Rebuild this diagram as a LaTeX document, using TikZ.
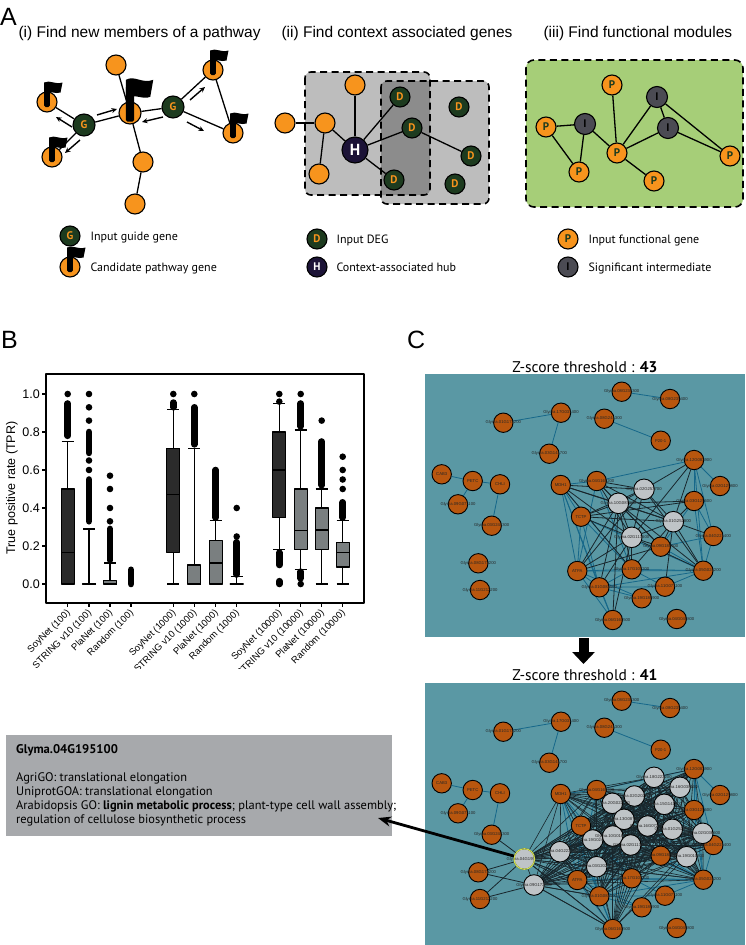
\documentclass[tikz,border=0pt]{standalone}
\usepackage{fontspec}
\setmainfont{Liberation Sans}
\newfontfamily\myr{PT Sans}
\usetikzlibrary{arrows.meta}
\definecolor{aorange}{HTML}{F7941D}
\definecolor{dgreen}{HTML}{1D3B1F}
\definecolor{hnavy}{HTML}{1C1337}
\definecolor{igray}{HTML}{4B4B53}
\definecolor{boxgray}{HTML}{BDBDBD}
\definecolor{ovgray}{HTML}{8C8C8C}
\definecolor{modgreen}{HTML}{A6CE78}
\definecolor{bdark}{HTML}{2B2B2B}
\definecolor{bgray}{HTML}{7A7F80}
\definecolor{netbg}{HTML}{5A98A4}
\definecolor{corange}{HTML}{B8560E}
\definecolor{cgray}{HTML}{BFC4C7}
\definecolor{tedgec}{HTML}{16688A}
\definecolor{dedgec}{HTML}{18262C}
\definecolor{infogray}{HTML}{A7A9AC}
\definecolor{hilite}{HTML}{D2E04E}
\pgfdeclarelayer{back}\pgfdeclarelayer{edges}\pgfsetlayers{back,edges,main}
\tikzset{candflag/.pic={
 \fill[rounded corners=1.5pt] (-2.8,5) rectangle (2.8,-16);
 \fill (-2.8,-19.5) .. controls (3,-22.5) and (8,-17) .. (15.5,-19.5) -- (13.5,-9.5) .. controls (8,-7.5) and (3,-12) .. (-2.8,-8.5) -- cycle;
}}
\newcommand\bxp[7]{%
 \draw[bline] (#1,{584-190*#2}) -- (#1,{584-190*#6});
 \draw[bline] ({#1-6},{584-190*#2}) -- ({#1+6},{584-190*#2});
 \draw[bline] ({#1-6},{584-190*#6}) -- ({#1+6},{584-190*#6});
 \filldraw[bline,fill=#7] ({#1-6.5},{584-190*#3}) rectangle ({#1+6.5},{584-190*#5});
 \draw[bline] ({#1-6.5},{584-190*#4}) -- ({#1+6.5},{584-190*#4});}
\newcommand\ocol[3]{\draw[line width=6.6pt,line cap=round] (#1,{584-190*#2}) -- (#1,{584-190*#3});}
\newcommand\odt[2]{\fill (#1,{584-190*#2}) circle (3.3pt);}
\newcommand\toplist{1/621.7/391.7/Glyma.08G235300,2/670/399/Glyma.08G235400,3/561/412.7/Glyma.17G031400,4/503.3/422.7/Glyma.01G172200,5/604.3/418.7/Glyma.08G241300,6/660.7/440.7/P20-1,7/549.3/453.7/Glyma.03G141700,8/441.7/474.3/CAB3,9/472.7/481/PETC,10/500/484.3/CHLI,11/458/504.3/Glyma.09G071100,12/491.7/525.7/Glyma.03G244300,13/478.3/563.3/Glyma.08G173200,14/480/590/Glyma.11G212200,15/560.7/485/MDH1,16/596.7/481/Glyma.04G165200,17/694/460/Glyma.12G083900,18/720/486/Glyma.02G129800,19/694/501/Glyma.03G125600,20/581/516.7/TCTP,21/713.3/536/Glyma.04G221400,22/660.7/546.7/Glyma.09G181500,23/577.3/571/ATPA,24/631.7/569.3/Glyma.17G103200,25/703.3/570.7/Glyma.05G024200,26/665/586.7/Glyma.11G071100,27/599.3/587.3/Glyma.01G083500,28/641.7/598.3/Glyma.19G189900,29/612.7/620/Glyma.06G161500,30/676.7/619/Glyma.04G049800}
\newcommand\tgraylist{1/644/489.3/Glyma.02G253700,2/618.3/503.3/Glyma.10G087300,3/673.3/521.7/Glyma.01G252800,4/631.7/537.3/Glyma.02G113500}
\newcommand\bgraylist{1/654/777.3/Glyma.18G222200,2/680/787.3/Glyma.16G038100,3/634.3/796/Glyma.02G202600,4/612.3/803.3/Glyma.20G022100,5/664.3/804.3/Glyma.15G141300,6/624/819.3/Glyma.13G087300,7/647.7/826/Glyma.16G072400,8/672.3/829.3/Glyma.01G252800,9/702.7/833.3/Glyma.02G036600,10/592.7/840/Glyma.19G024700,11/612.7/836/Glyma.10G016300,12/630.7/845/Glyma.02G113500,13/560/851.7/Glyma.04G222200,14/686.7/856.7/Glyma.19G010300,15/524.3/859/Glyma.04G195100,16/596.7/866.7/Glyma.03G202700,17/534/885/Glyma.09G172800}
\newcommand\tealpairs{1/2,3/4,3/7,5/6,8/9,9/10,9/11,10/12,16/17,15/16,15/20,15/23,15/27,15/24,15/29,20/23,20/27,20/24,20/25,23/27,23/24,23/25,24/25,27/25,27/26,27/29,17/18,17/19,17/21,17/25,19/21,19/25,21/25,22/25,22/21,16/24,24/27,23/28,27/28,26/25,19/22,23/29,16/23,24/26}
\newcommand\tdarkpairs{tg1/tg2,tg1/tg3,tg1/tg4,tg2/tg3,tg2/tg4,tg3/tg4,to15/tg1,to15/tg2,to15/tg3,to15/tg4,to16/tg1,to16/tg2,to16/tg3,to16/tg4,to20/tg1,to20/tg2,to20/tg3,to20/tg4,to17/tg1,to17/tg3,to17/tg4,to19/tg2,to19/tg3,to21/tg3,to22/tg2,to22/tg3,to22/tg4,to23/tg1,to23/tg2,to23/tg4,to24/tg2,to24/tg3,to24/tg4,to25/tg1,to25/tg2,to25/tg3,to25/tg4,to27/tg2,to27/tg4,to29/tg4,to29/tg2,to26/tg3,to15/to24,to16/to22,to20/to19,to23/to22}
\begin{document}
\begin{tikzpicture}[x=1pt,y=-1pt,line join=round,
 onode/.style={circle,draw=black,line width=1.1pt,fill=aorange,minimum size=20pt,inner sep=0pt},
 letnode/.style={circle,draw=black,line width=1.1pt,inner sep=0pt,font=\myr\bfseries\fontsize{11}{11}\selectfont},
 gnode/.style={letnode,fill=dgreen,text=aorange,minimum size=22pt},
 dnode/.style={letnode,fill=dgreen,text=aorange,minimum size=20pt},
 hnode/.style={letnode,fill=hnavy,text=white,minimum size=26pt,font=\myr\bfseries\fontsize{16}{16}\selectfont},
 pnode/.style={letnode,fill=aorange,text=dgreen,minimum size=20pt},
 inode/.style={letnode,fill=igray,text=black,minimum size=21pt},
 aedge/.style={line width=1.3pt},
 smarr/.style={line width=1.4pt,-{Stealth[length=5.5pt,width=5pt]}},
 dbox/.style={draw=black,line width=1.6pt,dash pattern=on 7pt off 4.5pt,rounded corners=6pt},
 legtxt/.style={anchor=base west,font=\myr\fontsize{12}{12}\selectfont},
 ttl/.style={anchor=base west,font=\fontsize{15.5}{16}\selectfont},
 panel/.style={anchor=base west,font=\fontsize{25}{25}\selectfont,inner sep=0pt},
 bline/.style={line width=1.3pt},
 xlab/.style={anchor=east,rotate=45,font=\fontsize{9.5}{9.5}\selectfont,inner sep=1pt},
 ylabs/.style={anchor=east,font=\fontsize{12.5}{13}\selectfont,inner sep=1pt},
 conode/.style={circle,draw=black,line width=0.9pt,fill=corange,minimum size=19.4pt,inner sep=0pt},
 cgnode/.style={circle,draw=black,line width=0.9pt,fill=cgray,minimum size=20.6pt,inner sep=0pt},
 clab/.style={inner sep=0pt,font=\fontsize{4.2}{4.2}\selectfont,text=black!85},
 tedge/.style={draw=tedgec,line width=0.8pt},
 dedge/.style={draw=dedgec,line width=0.8pt},
 bdedge/.style={draw=dedgec,line width=0.6pt},
 ztitle/.style={anchor=base,font=\myr\fontsize{15.5}{15.5}\selectfont},
 infotxt/.style={anchor=base west,inner sep=0pt,font=\myr\fontsize{12.4}{13}\selectfont}]
\useasboundingbox (0,0) rectangle (745,945);
\begin{pgfonlayer}{back}
\fill[white] (0,0) rectangle (745,945);
\end{pgfonlayer}
% ================= Panel A =================
\node[panel] (labA) at (0,25) {A};
\node[ttl] (t1) at (15,37) {(i) Find new members of a pathway};
\node[ttl] (t2) at (278,37) {(ii) Find context associated genes};
\node[ttl] (t3) at (540,37) {(iii) Find functional modules};
% (i)
\node[onode] (i1) at (116,65) {};
\node[onode,minimum size=22pt] (i2) at (130,113) {};
\node[gnode] (iG1) at (84,125) {G};
\node[gnode] (iG2) at (173,107) {G};
\node[onode] (i3) at (47,102) {};
\node[onode] (i4) at (52,157) {};
\node[onode] (i5) at (143,162) {};
\node[onode] (i6) at (135,204) {};
\node[onode] (i7) at (213,70) {};
\node[onode] (i8) at (233,133) {};
\begin{pgfonlayer}{edges}
\foreach \a/\b in {iG1/i3,iG1/i4,iG1/i2,i2/i1,i2/i5,i5/i6,i2/iG2,iG2/i7,iG2/i8,i7/i8}
  \draw[aedge] (\a) -- (\b);
\end{pgfonlayer}
\pic at (i3) {candflag};
\pic at (i4) {candflag};
\pic at (i7) {candflag};
\pic at (i8) {candflag};
\pic[xscale=1.5,yscale=1.7] at (i2) {candflag};
\draw[smarr] (72,127) -- (56,117);
\draw[smarr] (80,140) -- (65,153);
\draw[smarr] (97,115) -- (117,109);
\draw[smarr] (163,117) -- (142,122);
\draw[smarr] (190,100) -- (205,87);
\draw[smarr] (187,122) -- (204,131);
\node[gnode,minimum size=20pt] (lgG) at (70,236) {G};
\node[legtxt] (lgGt) at (87,240) {Input guide gene};
\node[onode] (lgC) at (70,267) {};
\pic at (lgC) {candflag};
\node[legtxt] (lgCt) at (87,271) {Candidate pathway gene};
% (ii)
\begin{pgfonlayer}{back}
\fill[boxgray,rounded corners=6pt] (305,72) rectangle (430,195);
\fill[boxgray,rounded corners=6pt] (381,81) rectangle (489,204);
\begin{scope}
\clip[rounded corners=6pt] (305,72) rectangle (430,195);
\fill[ovgray,rounded corners=6pt] (381,81) rectangle (489,204);
\end{scope}
\draw[dbox] (305,72) rectangle (430,195);
\draw[dbox] (381,81) rectangle (489,204);
\end{pgfonlayer}
\node[onode] (ii1) at (355,85) {};
\node[onode] (ii2) at (285,123) {};
\node[onode] (ii3) at (325,123) {};
\node[onode] (ii4) at (319,174) {};
\node[hnode] (iiH) at (355,150) {H};
\node[dnode] (d1) at (400,97) {D};
\node[dnode] (d2) at (412,128) {D};
\node[dnode] (d3) at (394,180) {D};
\node[dnode] (d4) at (459,107) {D};
\node[dnode] (d5) at (471,156) {D};
\node[dnode] (d6) at (455,184) {D};
\begin{pgfonlayer}{edges}
\foreach \a/\b in {ii2/ii3,ii3/iiH,ii3/ii4,ii1/iiH,iiH/d1,iiH/d2,iiH/d3,d2/d5}
  \draw[aedge] (\a) -- (\b);
\end{pgfonlayer}
\node[dnode] (lgD) at (317,239) {D};
\node[legtxt] (lgDt) at (333,243) {Input DEG};
\node[hnode,minimum size=20pt,font=\myr\bfseries\fontsize{11}{11}\selectfont] (lgH) at (317,267) {H};
\node[legtxt] (lgHt) at (333,271) {Context-associated hub};
% (iii)
\begin{pgfonlayer}{back}
\fill[modgreen,rounded corners=8pt] (526,60) rectangle (743,207);
\draw[dbox,rounded corners=8pt] (526,60) rectangle (743,207);
\end{pgfonlayer}
\node[pnode] (p1) at (612,85) {P};
\node[pnode] (p2) at (546,127) {P};
\node[inode] (m1) at (585,124) {I};
\node[pnode] (p3) at (579,172) {P};
\node[pnode] (p4) at (617,153) {P};
\node[inode] (m2) at (657,97) {I};
\node[inode] (m3) at (668,128) {I};
\node[pnode] (p5) at (730,156) {P};
\node[pnode] (p6) at (654,181) {P};
\begin{pgfonlayer}{edges}
\foreach \a/\b in {p2/m1,p2/p3,m1/p3,m1/p4,p1/p4,p4/m2,p4/m3,p4/p6,m2/m3,m2/p5,m3/p5}
  \draw[aedge] (\a) -- (\b);
\end{pgfonlayer}
\node[pnode] (lgP) at (568,239) {P};
\node[legtxt] (lgPt) at (585,243) {Input functional gene};
\node[inode,minimum size=20pt] (lgI) at (568,267) {I};
\node[legtxt] (lgIt) at (585,271) {Significant intermediate};
% ================= Panel B =================
\node[panel] (labB) at (1,348) {B};
\draw[line width=1.3pt] (46,374) rectangle (364,603);
\foreach \v/\t [count=\k] in {0/0.0,0.2/0.2,0.4/0.4,0.6/0.6,0.8/0.8,1/1.0}{
  \draw[line width=1.1pt] (42,{584-190*\v}) -- (46,{584-190*\v});
  \node[ylabs] (yt\k) at (41,{584-190*\v}) {\t};}
\node[rotate=90,font=\fontsize{12.5}{13}\selectfont] (ylab) at (12,488) {True positive rate (TPR)};
\bxp{67.7}{0}{0}{0.167}{0.5}{0.75}{bdark}
\ocol{67.7}{0.78}{0.95}\odt{67.7}{1}
\bxp{89}{0}{0}{0}{0}{0.29}{bgray}
\ocol{89}{0.33}{0.55}\odt{89}{0.6}\odt{89}{0.65}\ocol{89}{0.69}{0.8}\odt{89}{0.86}\odt{89}{0.93}\odt{89}{1}
\bxp{110}{0}{0}{0}{0.017}{0.11}{bgray}
\ocol{110}{0.125}{0.29}\odt{110}{0.33}\odt{110}{0.4}\odt{110}{0.5}\odt{110}{0.57}
\ocol{131}{0}{0.075}
\bxp{173.3}{0}{0.167}{0.47}{0.714}{0.917}{bdark}
\ocol{173.3}{0.93}{0.955}\odt{173.3}{1}
\bxp{194.3}{0}{0}{0}{0.1}{0.714}{bgray}
\ocol{194.3}{0.735}{0.93}\odt{194.3}{1}
\bxp{215.7}{0}{0}{0.11}{0.23}{0.333}{bgray}
\ocol{215.7}{0.35}{0.6}
\bxp{236.7}{0}{0}{0}{0}{0.04}{bgray}
\ocol{236.7}{0.05}{0.22}\odt{236.7}{0.25}\odt{236.7}{0.4}
\bxp{279.3}{0.18}{0.35}{0.6}{0.8}{0.95}{bdark}
\odt{279.3}{1}\odt{279.3}{0.96}\ocol{279.3}{0.1}{0.165}\ocol{279.3}{0}{0.015}
\bxp{300.7}{0.075}{0.18}{0.28}{0.5}{0.81}{bgray}
\ocol{300.7}{0.83}{0.95}\odt{300.7}{1}\ocol{300.7}{0.03}{0.065}\odt{300.7}{0}
\bxp{321.7}{0}{0.18}{0.285}{0.4}{0.5}{bgray}
\ocol{321.7}{0.52}{0.75}\odt{321.7}{0.86}
\bxp{342.7}{0}{0.09}{0.167}{0.22}{0.333}{bgray}
\ocol{342.7}{0.35}{0.43}\odt{342.7}{0.5}\odt{342.7}{0.55}\odt{342.7}{0.6}\odt{342.7}{0.67}
\begin{scope}
\clip (0,604) rectangle (395,668);
\foreach \x/\t [count=\k] in {67.7/{SoyNet (100)},89/{STRING v10 (100)},110/{PlaNet (100)},131/{Random (100)},173.3/{SoyNet (1000)},194.3/{STRING v10 (1000)},215.7/{PlaNet (1000)},236.7/{Random (1000)},279.3/{SoyNet (10000)},300.7/{STRING v10 (10000)},321.7/{PlaNet (10000)},342.7/{Random (10000)}}{
  \draw[line width=1.1pt] (\x,603) -- (\x,607);
  \node[xlab] (xl\k) at ({\x+2},611) {\t};}
\end{scope}
% ================= Panel C =================
\node[panel] (labC) at (407,348) {C};
\node[ztitle] (zt1) at (585,372) {Z-score threshold : \textbf{43}};
\node[ztitle] (zt2) at (585,680) {Z-score threshold : \textbf{41}};
\begin{pgfonlayer}{back}
\fill[netbg] (425,374) rectangle (745,637);
\fill[netbg] (425,683) rectangle (745,945);
\end{pgfonlayer}
\coordinate (arrS) at (583.5,638);
\coordinate (arrE) at (583.5,664);
\draw[line width=10pt,-{Triangle[length=12pt,width=22pt]}] (arrS) -- (arrE);
% top network
\foreach \n/\x/\y/\l in \toplist{
  \node[conode] (to\n) at (\x,\y) {};
  \node[clab] (tol\n) at (\x,\y) {\l};}
\foreach \n/\x/\y/\l in \tgraylist{
  \node[cgnode] (tg\n) at (\x,\y) {};
  \node[clab] (tgl\n) at (\x,\y) {\l};}
\begin{pgfonlayer}{edges}
\foreach \a/\b in \tealpairs {\draw[tedge] (to\a) -- (to\b);}
\foreach \a/\b in \tdarkpairs {\draw[dedge] (\a) -- (\b);}
\end{pgfonlayer}
% bottom network
\foreach \n/\x/\y/\l in \toplist{
  \node[conode] (bo\n) at (\x,{\y+309}) {};
  \node[clab] (bol\n) at (\x,{\y+309}) {\l};}
\foreach \n/\x/\y/\l in \bgraylist{
  \node[cgnode] (bg\n) at (\x,\y) {};
  \node[clab] (bgl\n) at (\x,\y) {\l};}
\draw[hilite,line width=1.1pt] (bg15.center) circle (10.3pt);
\begin{pgfonlayer}{edges}
\foreach \a/\b in \tealpairs {\draw[tedge] (bo\a) -- (bo\b);}
\foreach \i in {1,...,16}{
  \pgfmathtruncatemacro\s{\i+1}
  \foreach \j in {\s,...,17}{\draw[bdedge] (bg\i) -- (bg\j);}}
\foreach \i in {1,...,17}{
  \foreach \o in {15,16,17,19,20,21,22,23,24,25,27,29}{\draw[bdedge] (bg\i) -- (bo\o);}}
\foreach \a/\b in {bg15/bo12,bg15/bo13,bg15/bo14,bg17/bo13,bg17/bo14,bg15/bo29,bg17/bo29,bg17/bo27,bg15/bo23,bo24/bo22,bo20/bo19,bo23/bo22}
  {\draw[dedge] (\a) -- (\b);}
\end{pgfonlayer}
% info box
\fill[infogray] (6,735) rectangle (392,836);
\node[infotxt,font=\myr\bfseries\fontsize{12.6}{13}\selectfont] (inf1) at (16,753) {Glyma.04G195100};
\node[infotxt] (inf2) at (16,781) {AgriGO: translational elongation};
\node[infotxt] (inf3) at (16,795) {UniprotGOA: translational elongation};
\node[infotxt] (inf4) at (16,809) {Arabidopsis GO: \textbf{lignin metabolic process}; plant-type cell wall assembly;};
\node[infotxt] (inf5) at (16,823) {regulation of cellulose biosynthetic process};
\coordinate (infotip) at (378,818);
\draw[line width=2.8pt,-{Stealth[length=13pt,width=10pt]}] (bg15) -- (infotip);
\end{tikzpicture}
\end{document}
